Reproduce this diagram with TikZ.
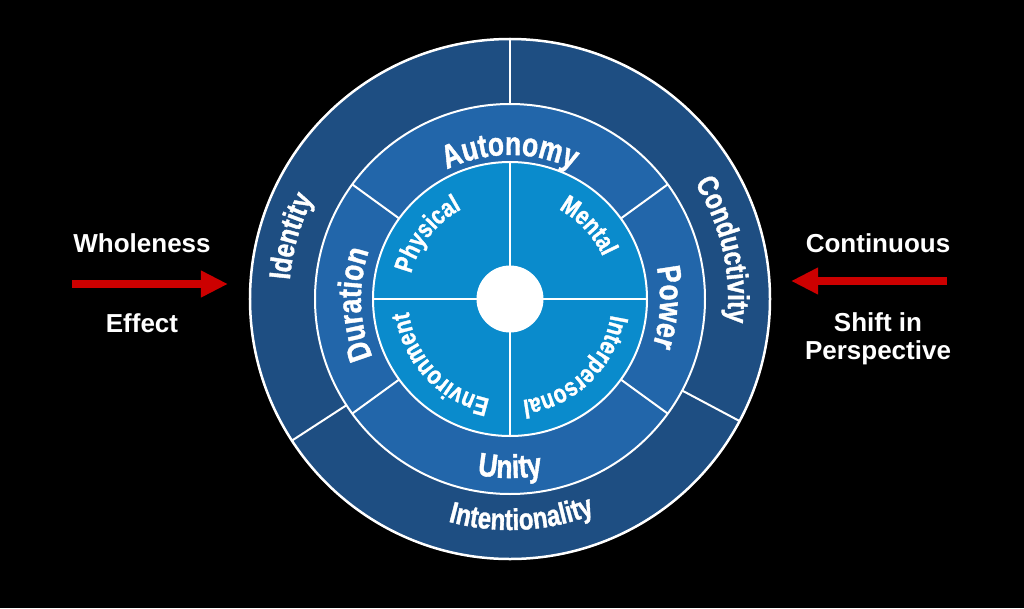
\documentclass[tikz,border=0pt]{standalone}
\usepackage{fontspec}
\setmainfont{Liberation Sans}
\newfontfamily\wheelfont[FakeStretch=0.8,BoldFeatures={FakeBold=1.2}]{Liberation Sans}
\usetikzlibrary{arrows.meta,decorations.text}
\definecolor{outerblue}{RGB}{30,78,130}
\definecolor{midblue}{RGB}{34,102,170}
\definecolor{innerblue}{RGB}{10,139,204}
\definecolor{arrowred}{RGB}{204,0,0}
\newcommand\outerfont{\wheelfont\bfseries\fontsize{30}{30}\selectfont}
\newcommand\midfont{\wheelfont\bfseries\fontsize{33}{33}\selectfont}
\newcommand\innerfont{\wheelfont\bfseries\fontsize{26}{26}\selectfont}
\begin{document}
\begin{tikzpicture}[x=1pt,y=1pt,
ring/.style={draw=white,line width=2pt},
divider/.style={white,line width=2pt},
ringtext/.style={decorate,decoration={text along path,text align=center,text color=white,text={#1}}},
sidetext/.style={text=white,font=\bfseries\fontsize{26}{28}\selectfont,align=center},
bigarrow/.style={arrowred,line width=8pt,-{Triangle[length=27pt,width=25pt]}}]
\fill(-510,-309)rectangle(514,299);
\useasboundingbox(-510,-309)rectangle(514,299);
%
\draw[ring,line width=2.5pt,fill=outerblue](0,0)circle[radius=260];
\draw[ring,fill=midblue](0,0)circle[radius=195];
\draw[ring,fill=innerblue](0,0)circle[radius=137];
\draw[divider](90:195)--(90:260);
\draw[divider](213:195)--(213:260);
\draw[divider](332:195)--(332:260);
\draw[divider](36:137)--(36:195);
\draw[divider](144:137)--(144:195);
\draw[divider](216:137)--(216:195);
\draw[divider](324:137)--(324:195);
\draw[divider](0:33)--(0:137);
\draw[divider](90:33)--(90:137);
\draw[divider](180:33)--(180:137);
\draw[divider](270:33)--(270:137);
\fill[white](0,0)circle[radius=33.5];
%
\path[ringtext={|\outerfont|Identity}](224:221)arc[start angle=224,end angle=104,radius=221];
\path[ringtext={|\outerfont|Conductivity}](73:218)arc[start angle=73,end angle=-47,radius=218];
\path[ringtext={|\outerfont|Intentionality}](213:231)arc[start angle=213,end angle=333,radius=231];
\path[ringtext={|\midfont|Autonomy}](150:144)arc[start angle=150,end angle=30,radius=144];
\path[ringtext={|\midfont|Duration}](242:149)arc[start angle=242,end angle=122,radius=149];
\path[ringtext={|\midfont|Power}](57:150)arc[start angle=57,end angle=-63,radius=150];
\path[ringtext={|\midfont|Unity}](210:179)arc[start angle=210,end angle=330,radius=179];
\path[ringtext={|\innerfont|Physical}](202:102)arc[start angle=202,end angle=82,radius=102];
\path[ringtext={|\innerfont|Mental}](103:102)arc[start angle=103,end angle=-17,radius=102];
\path[ringtext={|\innerfont|Interpersonal}](14:102)arc[start angle=14,end angle=-106,radius=102];
\path[ringtext={|\innerfont|Environment}](283:102)arc[start angle=283,end angle=163,radius=102];
%
\node[sidetext](whole)at(-368,56){Wholeness};
\node[sidetext](effect)at(-368,-24){Effect};
\node[sidetext](cont)at(368,56){Continuous};
\node[sidetext](shift)at(368,-40){Shift in\\Perspective};
\coordinate(wstart)at(-438,15);
\coordinate(wend)at(-282,15);
\coordinate(cstart)at(437,18);
\coordinate(cend)at(281,18);
\draw[bigarrow](wstart)--(wend);
\draw[bigarrow](cstart)--(cend);
\end{tikzpicture}
\end{document}
